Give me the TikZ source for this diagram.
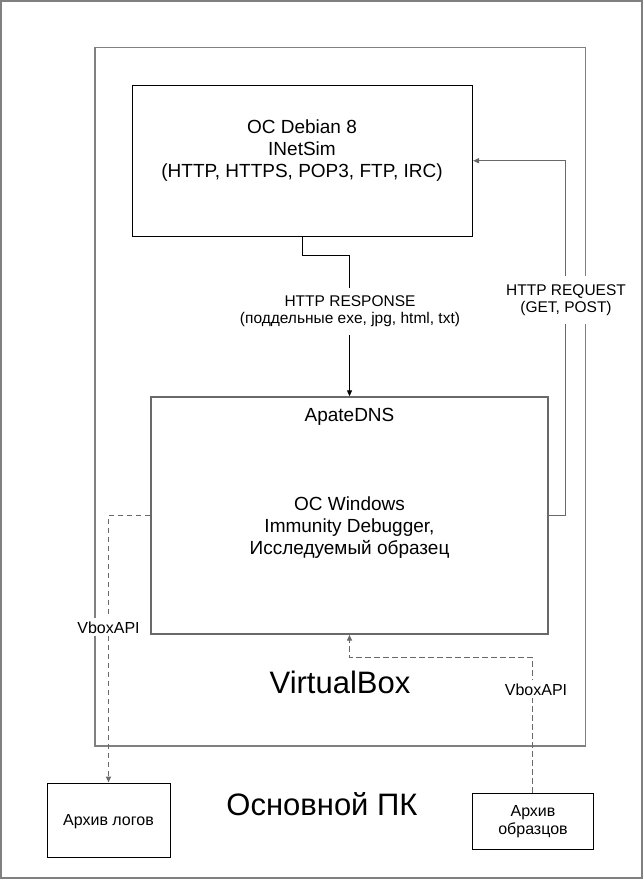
\documentclass[tikz,border=0pt]{standalone}
\usepackage{fontspec}
\setmainfont{Liberation Sans}
\usetikzlibrary{arrows.meta}
\definecolor{framegray}{RGB}{128,128,128}
\definecolor{linegray}{RGB}{105,105,105}
\begin{document}
\begin{tikzpicture}[x=1pt,y=-1pt,
  frame/.style={draw=framegray, line width=1.8pt, inner sep=0pt, fill=none},
  blackbox/.style={draw=black, line width=1pt, inner sep=0pt},
  graybox/.style={draw=linegray, line width=1.4pt, inner sep=0pt},
  boxtext/.style={font=\fontsize{19}{22}\selectfont, align=center, inner sep=0pt},
  lbl/.style={font=\fontsize{15.5}{17}\selectfont, align=center, inner sep=0pt},
  lblfill/.style={lbl, fill=white, inner xsep=2pt, inner ysep=8pt},
  bigtext/.style={font=\fontsize{31}{36}\selectfont, inner sep=0pt},
  tip/.style={-{Triangle[length=6pt,width=5pt]}},
  solidblack/.style={draw=black, line width=1pt, tip},
  solidgray/.style={draw=linegray, line width=1.4pt, tip},
  dashgray/.style={draw=linegray, line width=1.4pt, dash pattern=on 5.5pt off 3.5pt, tip}
]
\useasboundingbox (0,0) rectangle (643,879);
% frames
\node[frame, minimum width=641.5pt, minimum height=877.5pt] (pc) at (321.5,439.5) {};
\node[frame, minimum width=490.5pt, minimum height=698.5pt] (vbox) at (340.25,396.75) {};
% boxes
\node[blackbox, minimum width=340pt, minimum height=150.5pt] (deb) at (302.5,160.75) {};
\node[graybox, minimum width=397pt, minimum height=237pt] (win) at (349.5,515.5) {};
\node[blackbox, minimum width=123pt, minimum height=74pt] (logs) at (108.5,820) {};
\node[blackbox, minimum width=120.5pt, minimum height=56pt] (obr) at (532.75,821) {};
% box texts
\node[boxtext] (debtxt) at (302,150.5) {OC Debian 8\\INetSim\\(HTTP, HTTPS, POP3, FTP, IRC)};
\node[boxtext, anchor=base] (apate) at (349.5,421) {ApateDNS};
\node[boxtext] (wintxt) at (349.5,527.5) {OC Windows\\Immunity Debugger,\\Исследуемый образец};
\node[lbl, font=\fontsize{16}{18}\selectfont, anchor=base] (logstxt) at (108.5,825.5) {Архив логов};
\node[lbl, font=\fontsize{16}{18}\selectfont] (obrtxt) at (533,821.5) {Архив\\образцов};
\node[bigtext, anchor=base] (vboxtxt) at (340,693) {VirtualBox};
\node[bigtext, anchor=base] (pctxt) at (322,815) {Основной ПК};
% connectors
\draw[solidblack] (deb.south) -- ++(0,18.5) -| (win.north);
\draw[solidgray] (win.east) -- ++(17,0) |- (deb.east);
\draw[dashgray] (win.west) -| (logs.north);
\draw[dashgray] (obr.north) -- ++(0,-135) -| (win.south);
% connector labels
\node[lblfill] (resp) at (350,311.5) {HTTP RESPONSE\\(поддельные exe, jpg, html, txt)};
\node[lblfill] (req) at (566,300) {HTTP REQUEST\\(GET, POST)};
\node[lblfill, font=\fontsize{16}{18}\selectfont, inner ysep=3pt, anchor=base] (api1) at (108.5,633) {VboxAPI};
\node[lblfill, font=\fontsize{16}{18}\selectfont, inner ysep=3pt, anchor=base] (api2) at (536,695) {VboxAPI};
\end{tikzpicture}
\end{document}
